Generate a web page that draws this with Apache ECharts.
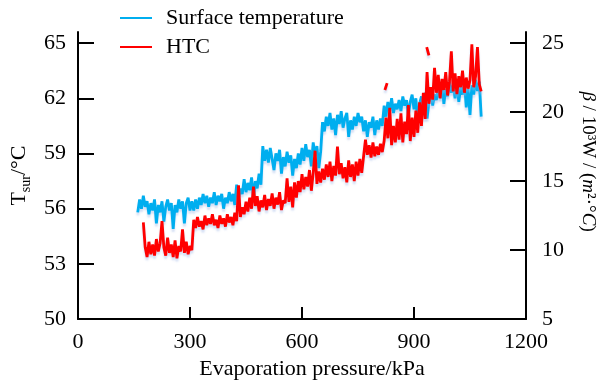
<!DOCTYPE html>
<html>
<head>
<meta charset="utf-8">
<script src="https://cdn.jsdelivr.net/npm/echarts@6/dist/echarts.min.js"></script>
<style>
  html, body { margin: 0; padding: 0; background: #fff; }
  #chart { width: 608px; height: 385px; }
</style>
</head>
<body>
<div id="chart"></div>
<script>
// 蒸发压力 kPa
var pressure = [
  160, 165, 170, 175, 180, 185, 190, 195, 200, 205,
  210, 215, 220, 225, 230, 235, 240, 245, 250, 255,
  260, 265, 270, 275, 280, 285, 290, 295, 300, 305,
  310, 315, 320, 325, 330, 335, 340, 345, 350, 355,
  360, 365, 370, 375, 380, 385, 390, 395, 400, 405,
  410, 415, 420, 425, 430, 435, 440, 445, 450, 455,
  460, 465, 470, 475, 480, 485, 490, 495, 500, 505,
  510, 515, 520, 525, 530, 535, 540, 545, 550, 555,
  560, 565, 570, 575, 580, 585, 590, 595, 600, 605,
  610, 615, 620, 625, 630, 635, 640, 645, 650, 655,
  660, 665, 670, 675, 680, 685, 690, 695, 700, 705,
  710, 715, 720, 725, 730, 735, 740, 745, 750, 755,
  760, 765, 770, 775, 780, 785, 790, 795, 800, 805,
  810, 815, 820, 825, 830, 835, 840, 845, 850, 855,
  860, 865, 870, 875, 880, 885, 890, 895, 900, 905,
  910, 915, 920, 925, 930, 935, 940, 945, 950, 955,
  960, 965, 970, 975, 980, 985, 990, 995, 1000, 1005,
  1010, 1015, 1020, 1025, 1030, 1035, 1040, 1045, 1050, 1055,
  1060, 1065, 1070, 1075, 1080
];
// 表面温度 ℃
var surfaceTemp = [
  55.8, 56.5, 56.0, 56.7, 56.1, 56.4, 55.7, 56.3, 55.9, 56.5,
  55.2, 56.2, 55.8, 56.4, 55.3, 56.1, 56.5, 55.9, 56.3, 54.9,
  56.2, 55.8, 56.5, 56.0, 56.4, 55.2, 56.3, 56.6, 55.9, 56.4,
  55.9, 56.5, 56.0, 56.6, 56.2, 56.8, 56.3, 56.7, 56.1, 56.6,
  56.3, 56.9, 56.2, 56.7, 56.4, 56.8, 56.0, 56.6, 56.3, 56.9,
  56.4, 56.8, 56.2, 57.3, 56.6, 57.1, 56.8, 57.6, 56.9, 57.4,
  57.0, 57.7, 56.6, 57.5, 57.1, 57.9, 57.3, 59.4, 58.6, 59.2,
  58.5, 59.3, 58.7, 58.1, 59.0, 58.6, 59.2, 57.9, 58.8, 58.3,
  59.1, 58.5, 58.9, 57.8, 58.7, 58.2, 59.0, 58.4, 59.3, 58.6,
  59.5, 58.8, 59.2, 58.3, 59.6, 58.9, 59.4, 58.2, 59.1, 60.7,
  60.2, 61.0, 60.5, 61.2, 60.3, 60.9, 60.0, 61.1, 60.6, 61.3,
  60.4, 60.9, 61.2, 59.9, 60.8, 60.3, 61.0, 60.5, 61.2, 60.7,
  61.0, 60.2, 60.8, 59.9, 60.7, 60.4, 61.0, 60.0, 60.8, 60.3,
  60.9, 60.5, 61.6, 61.0, 61.8, 61.3, 62.0, 61.2, 61.7, 61.4,
  61.9, 61.3, 62.1, 61.6, 61.9, 61.1, 61.8, 62.2, 61.4, 62.0,
  60.8, 61.7, 62.1, 61.3, 62.3, 60.9, 61.8, 62.4, 61.6, 62.2,
  61.9, 62.6, 62.0, 62.8, 61.7, 62.5, 62.1, 62.9, 62.3, 62.7,
  62.0, 62.8, 61.8, 62.6, 62.2, 62.9, 61.5, 62.5, 61.1, 62.7,
  62.2, 63.0, 62.4, 62.9, 61.0
];
// 换热系数 10^3 W/(m2·℃)
var htc = [
  null, null, null, 12.0, 10.2, 9.5, 10.6, 9.7, 10.4, 9.6,
  10.8, 9.9, 10.5, 12.1, 10.2, 9.6, 10.9, 9.8, 10.4, 9.5,
  10.7, 9.4, 10.3, 9.9, 11.5, 9.8, 10.6, 9.7, 10.3, 10.0,
  12.2, 11.6, 12.4, 11.7, 12.1, 11.5, 12.5, 11.8, 12.3, 11.9,
  12.6, 11.8, 12.2, 11.6, 12.5, 11.9, 12.3, 11.7, 12.6, 12.0,
  12.4, 11.8, 12.7, 12.1, 14.7, 12.4, 13.1, 12.6, 13.5, 12.8,
  13.8, 13.0, 14.6, 13.2, 13.9, 12.8, 13.6, 13.1, 14.0, 12.9,
  13.7, 13.2, 14.1, 13.0, 13.8, 13.3, 14.2, 12.9, 13.6, 13.4,
  15.2, 13.5, 14.6, 13.1, 14.9, 13.8, 15.0, 14.2, 15.5, 14.4,
  15.3, 14.6, 15.8, 14.3, 15.6, 17.2, 14.8, 15.7, 14.9, 15.9,
  15.1, 16.2, 15.3, 16.4, 15.0, 16.1, 15.4, 17.5, 15.5, 16.3,
  15.2, 16.0, 14.9, 16.5, 15.3, 16.2, 15.0, 16.4, 15.4, 16.6,
  15.6, 16.8, 18.0, 16.9, 17.6, 16.7, 17.8, 16.8, 17.5, 16.9,
  17.7, 17.1, 17.9, 19.6, 18.1, 20.3, 17.6, 19.0, 17.8, 19.5,
  18.0, 19.9, 17.8, 19.3, 18.4, 20.5, 17.9, 19.6, 18.2, 20.1,
  18.5, 20.7, 19.0, 21.4, 19.5, 22.9, 20.6, 21.8, 20.9, 23.2,
  21.4, 22.7, 21.0, 22.4, 21.6, 22.9, 21.2, 22.2, 24.4, 21.5,
  22.8, 21.3, 22.6, 21.8, 23.0, 21.4, 22.5, 21.7, 22.3, 24.9,
  21.8, 22.6, 24.7, 22.0, 21.5
];
// 断开的短线段
var htcSpikes = [[822, 21.6], [828, 22.1], '-', [934, 24.7], [940, 24.1]];

var xTicks = [0, 300, 600, 900, 1200];
var tempTicks = [50, 53, 56, 59, 62, 65];
var htcTicks = [5, 10, 15, 20, 25];

var FONT = 'Liberation Serif';
var chart = echarts.init(document.getElementById('chart'));

function pairs(ys) {
  var out = [];
  for (var i = 0; i < pressure.length; i++) {
    out.push(ys[i] == null ? '-' : [pressure[i], ys[i]]);
  }
  return out;
}

var axisLine = { show: true, lineStyle: { color: '#000', width: 2 } };
var lineShadow = { shadowColor: 'rgba(160,185,230,0.45)', shadowBlur: 2, shadowOffsetY: 3 };
var labelStyle = { fontFamily: FONT, fontSize: 22, color: '#000' };

var option = {
  animation: false,
  grid: { left: 78, right: 82, top: 32, bottom: 63 },
  legend: {
    orient: 'vertical',
    left: 115,
    top: 2,
    icon: 'rect',
    itemWidth: 32,
    itemHeight: 2,
    itemGap: 7,
    textStyle: { fontFamily: FONT, fontSize: 22, color: '#000', lineHeight: 22, padding: [0, 0, 0, 9] },
    data: ['Surface temperature', 'HTC']
  },
  xAxis: {
    type: 'value',
    min: 0,
    max: 1200,
    interval: 300,
    name: 'Evaporation pressure/kPa',
    nameLocation: 'middle',
    nameGap: 34,
    nameTextStyle: Object.assign({ padding: [0, 0, 0, 20] }, labelStyle),
    axisLine: axisLine,
    axisTick: { inside: true, length: 12, lineStyle: { color: '#000', width: 2 } },
    axisLabel: Object.assign({
      margin: 12,
      customValues: xTicks,
      formatter: function (v) { return String(v); }
    }, labelStyle),
    splitLine: { show: false }
  },
  yAxis: [{
    type: 'value',
    position: 'left',
    min: 50,
    max: 65.6,
    name: '{a|T}{s|sur}{a|/°C}',
    nameLocation: 'middle',
    nameRotate: 90,
    nameGap: 44,
    nameTextStyle: {
      rich: {
        a: { fontFamily: FONT, fontSize: 22, color: '#000', lineHeight: 28, verticalAlign: 'middle' },
        s: { fontFamily: FONT, fontSize: 14, color: '#000', lineHeight: 14, verticalAlign: 'bottom' }
      }
    },
    axisLine: axisLine,
    axisTick: { inside: true, length: 16, customValues: tempTicks, lineStyle: { color: '#000', width: 2 } },
    axisLabel: Object.assign({ margin: 12, customValues: tempTicks }, labelStyle),
    splitLine: { show: false }
  }, {
    type: 'value',
    position: 'right',
    min: 5,
    max: 25.8,
    name: '{i|β} / 10³W / ({i|m}²·°{i|C})',
    nameLocation: 'middle',
    nameRotate: -90,
    nameGap: 52,
    nameTextStyle: {
      padding: [0, 28, 0, 0],
      rich: {
        i: { fontFamily: FONT, fontSize: 19, fontStyle: 'italic', color: '#000' }
      },
      fontFamily: FONT,
      fontSize: 19,
      color: '#000'
    },
    axisLine: axisLine,
    axisTick: { inside: true, length: 16, customValues: htcTicks, lineStyle: { color: '#000', width: 2 } },
    axisLabel: Object.assign({ margin: 16, customValues: htcTicks }, labelStyle),
    splitLine: { show: false }
  }],
  series: [{
    name: 'Surface temperature',
    type: 'line',
    yAxisIndex: 0,
    showSymbol: false,
    color: '#00AEEF',
    lineStyle: Object.assign({ width: 2.8, color: '#00AEEF' }, lineShadow),
    data: pairs(surfaceTemp)
  }, {
    name: 'HTC',
    type: 'line',
    yAxisIndex: 1,
    showSymbol: false,
    color: '#FF0000',
    lineStyle: Object.assign({ width: 2.8, color: '#FF0000' }, lineShadow),
    data: pairs(htc)
  }, {
    name: 'HTC',
    type: 'line',
    yAxisIndex: 1,
    showSymbol: false,
    color: '#FF0000',
    lineStyle: Object.assign({ width: 2.8, color: '#FF0000' }, lineShadow),
    data: htcSpikes
  }]
};
chart.setOption(option);
</script>
</body>
</html>
